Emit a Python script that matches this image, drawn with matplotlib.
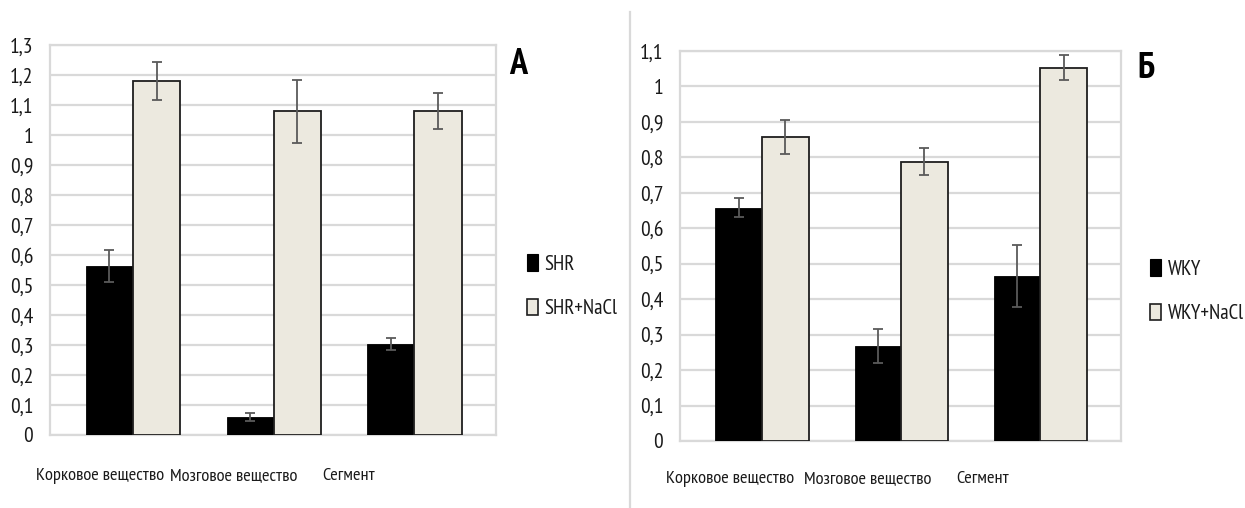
import matplotlib
matplotlib.use("Agg")
import matplotlib.pyplot as plt
import numpy as np
from matplotlib.patches import Patch
from matplotlib.ticker import FuncFormatter, MultipleLocator
from matplotlib.lines import Line2D

plt.rcParams['font.family'] = ['PT Sans Narrow', 'DejaVu Sans']

categories = ["Корковое вещество", "Мозговое вещество", "Сегмент"]

# Panel А: SHR rats
shr = [0.564, 0.061, 0.303]
shr_err = [0.053, 0.014, 0.021]
shr_nacl = [1.18, 1.08, 1.08]
shr_nacl_err = [0.063, 0.105, 0.061]

# Panel Б: WKY rats
wky = [0.658, 0.267, 0.465]
wky_err = [0.026, 0.048, 0.088]
wky_nacl = [0.857, 0.788, 1.053]
wky_nacl_err = [0.048, 0.037, 0.035]

W, H = 1245, 508
fig = plt.figure(figsize=(W / 100, H / 100), dpi=100)

GRID = "#d9d9d9"
LIGHT = "#ece9df"
TEXT = "#1a1a1a"


def fmt(v, _):
    s = f"{v:.1f}".replace(".", ",")
    return s[:-2] if s.endswith(",0") else s


def panel(rect, a, a_err, b, b_err, ymax, names, letter, letter_xy, leg_xy, label_x, label_y):
    ax = fig.add_axes(rect)
    x = np.arange(len(categories))
    w = 0.335
    ax.bar(x - w / 2, a, w, color="black", edgecolor="black", linewidth=0.6, zorder=3)
    ax.bar(x + w / 2, b, w, color=LIGHT, edgecolor="#1e1e1e", linewidth=1.3, zorder=3)
    ax.errorbar(x - w / 2, a, yerr=a_err, fmt="none", ecolor="#5a5a5a",
                elinewidth=1.3, capsize=3.8, capthick=1.3, zorder=4)
    ax.errorbar(x + w / 2, b, yerr=b_err, fmt="none", ecolor="#5a5a5a",
                elinewidth=1.3, capsize=3.8, capthick=1.3, zorder=4)
    ax.set_xlim(-0.59, 2.58)
    ax.set_ylim(0, ymax)
    ax.yaxis.set_major_locator(MultipleLocator(0.1))
    ax.yaxis.set_major_formatter(FuncFormatter(fmt))
    ax.grid(axis="y", color=GRID, linewidth=1.6, zorder=0)
    ax.set_axisbelow(True)
    for s in ax.spines.values():
        s.set_color(GRID)
        s.set_linewidth(1.6)
    ax.set_xticks([])
    ax.tick_params(axis="y", length=0, pad=12, labelsize=15.5, labelcolor=TEXT)
    for lx, name in zip(label_x, categories):
        fig.text(lx / W, 1 - label_y / H, name, ha="center", va="center",
                 fontsize=13.2, color=TEXT)
    fig.text(letter_xy[0] / W, 1 - letter_xy[1] / H, letter, ha="left", va="center",
             fontsize=26, fontweight="bold", color="black")
    handles = [Patch(facecolor="black", edgecolor="black", linewidth=0.8),
               Patch(facecolor=LIGHT, edgecolor="#1e1e1e", linewidth=1.2)]
    fig.legend(handles, names, loc="upper left",
               bbox_to_anchor=(leg_xy[0] / W, 1 - leg_xy[1] / H),
               frameon=False, fontsize=15, handlelength=0.55, handleheight=0.85,
               handletextpad=0.3, labelspacing=1.2, borderpad=0, borderaxespad=0,
               labelcolor=TEXT)
    return ax


panel([50 / W, 1 - 435 / H, 446 / W, 390 / H], shr, shr_err, shr_nacl, shr_nacl_err,
      1.3, ["SHR", "SHR+NaCl"], "А", (509, 64), (527, 254), [100, 234, 349], 476)
panel([680 / W, 1 - 441 / H, 441 / W, 390 / H], wky, wky_err, wky_nacl, wky_nacl_err,
      1.1, ["WKY", "WKY+NaCl"], "Б", (1137, 69), (1150, 259), [730, 868, 983], 479)

# separator between the two panels
fig.add_artist(Line2D([630 / W, 630 / W], [0, 1 - 12 / H], transform=fig.transFigure,
                      color=GRID, linewidth=1.6))

fig.savefig("out.png", dpi=100)
